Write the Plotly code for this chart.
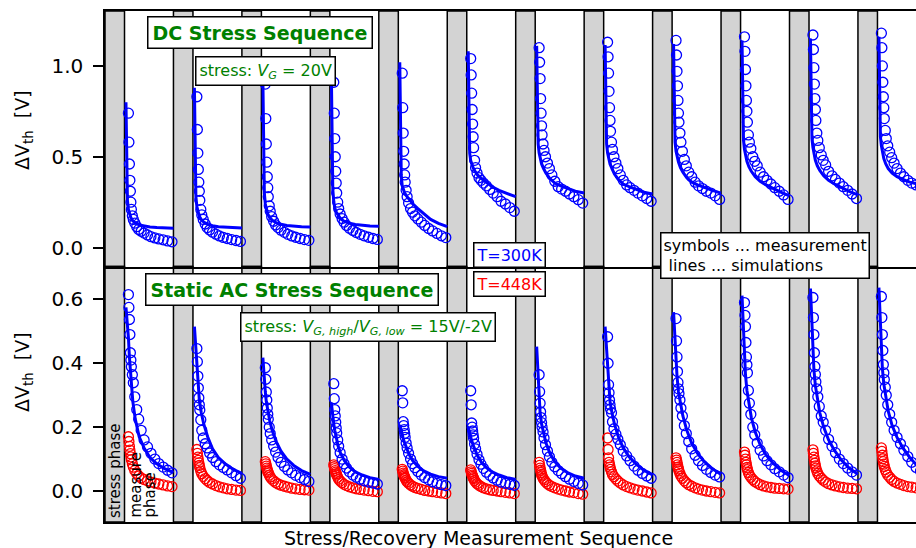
import plotly.graph_objects as go
from plotly.subplots import make_subplots

# ---------------------------------------------------------------- data
N_CYCLES = 12

# measurement instants inside each recovery window (fraction of the window)
t_meas = [0.08, 0.09, 0.10, 0.11, 0.12, 0.13, 0.14, 0.16, 0.18, 0.21, 0.25,
          0.29, 0.34, 0.40, 0.47, 0.54, 0.62, 0.70, 0.79, 0.88, 0.97]
# simulation output instants inside each recovery window
t_sim = [0.03, 0.04, 0.05, 0.06, 0.08, 0.10, 0.13, 0.17, 0.22, 0.30, 0.40,
         0.52, 0.66, 0.82, 1.0]

# DC stress (V_G = 20 V), T = 300 K -- measured dVth [V]
dc_meas_300K = [
    [0.74, 0.58, 0.46, 0.37, 0.31, 0.25, 0.21, 0.175, 0.155, 0.135, 0.115, 0.10, 0.09, 0.08, 0.07, 0.06, 0.053, 0.048, 0.043, 0.037, 0.032],
    [0.83, 0.65, 0.52, 0.43, 0.36, 0.31, 0.26, 0.21, 0.18, 0.155, 0.13, 0.11, 0.097, 0.085, 0.074, 0.064, 0.056, 0.05, 0.044, 0.039, 0.034],
    [0.90, 0.71, 0.57, 0.47, 0.39, 0.33, 0.28, 0.23, 0.20, 0.17, 0.145, 0.125, 0.11, 0.096, 0.084, 0.073, 0.064, 0.057, 0.05, 0.044, 0.04],
    [0.91, 0.74, 0.60, 0.50, 0.42, 0.355, 0.30, 0.25, 0.215, 0.185, 0.16, 0.14, 0.122, 0.107, 0.094, 0.083, 0.073, 0.065, 0.057, 0.05, 0.045],
    [0.96, 0.77, 0.63, 0.53, 0.46, 0.40, 0.36, 0.315, 0.28, 0.245, 0.215, 0.195, 0.175, 0.158, 0.14, 0.122, 0.105, 0.092, 0.078, 0.065, 0.055],
    [1.04, 0.95, 0.85, 0.76, 0.68, 0.61, 0.55, 0.48, 0.44, 0.41, 0.385, 0.37, 0.355, 0.34, 0.32, 0.30, 0.28, 0.255, 0.24, 0.22, 0.20],
    [1.10, 1.02, 0.93, 0.82, 0.74, 0.67, 0.62, 0.57, 0.535, 0.50, 0.465, 0.435, 0.40, 0.365, 0.335, 0.322, 0.31, 0.295, 0.28, 0.264, 0.245],
    [1.13, 1.05, 0.96, 0.86, 0.77, 0.70, 0.64, 0.58, 0.54, 0.50, 0.465, 0.435, 0.40, 0.37, 0.345, 0.33, 0.315, 0.30, 0.285, 0.27, 0.255],
    [1.14, 1.06, 0.97, 0.89, 0.81, 0.74, 0.69, 0.63, 0.58, 0.53, 0.485, 0.45, 0.415, 0.39, 0.36, 0.34, 0.325, 0.31, 0.30, 0.285, 0.265],
    [1.16, 1.08, 0.98, 0.89, 0.81, 0.75, 0.69, 0.62, 0.58, 0.545, 0.50, 0.475, 0.45, 0.415, 0.39, 0.37, 0.35, 0.33, 0.31, 0.29, 0.265],
    [1.17, 1.09, 0.99, 0.90, 0.82, 0.76, 0.70, 0.63, 0.59, 0.55, 0.51, 0.48, 0.455, 0.42, 0.395, 0.375, 0.355, 0.335, 0.315, 0.295, 0.27],
    [1.18, 1.10, 1.00, 0.91, 0.83, 0.77, 0.71, 0.645, 0.60, 0.56, 0.525, 0.495, 0.465, 0.435, 0.41, 0.39, 0.37, 0.355, 0.345, 0.335, 0.325],
]
# DC stress, T = 300 K -- simulated dVth [V]
dc_sim_300K = [
    [0.80, 0.55, 0.36, 0.26, 0.21, 0.185, 0.165, 0.148, 0.135, 0.125, 0.118, 0.113, 0.11, 0.108, 0.106],
    [0.88, 0.60, 0.39, 0.28, 0.225, 0.195, 0.172, 0.154, 0.14, 0.128, 0.12, 0.115, 0.112, 0.11, 0.108],
    [0.93, 0.64, 0.42, 0.30, 0.24, 0.21, 0.185, 0.165, 0.15, 0.137, 0.128, 0.122, 0.118, 0.115, 0.113],
    [0.97, 0.68, 0.45, 0.32, 0.255, 0.22, 0.195, 0.175, 0.158, 0.144, 0.134, 0.127, 0.122, 0.119, 0.117],
    [1.02, 0.85, 0.60, 0.40, 0.34, 0.32, 0.30, 0.283, 0.265, 0.24, 0.215, 0.185, 0.155, 0.133, 0.115],
    [1.08, 0.85, 0.62, 0.52, 0.48, 0.46, 0.44, 0.42, 0.40, 0.38, 0.36, 0.335, 0.315, 0.30, 0.28],
    [1.11, 0.85, 0.63, 0.57, 0.52, 0.49, 0.46, 0.435, 0.41, 0.38, 0.355, 0.34, 0.325, 0.31, 0.30],
    [1.115, 0.86, 0.64, 0.57, 0.52, 0.49, 0.46, 0.435, 0.405, 0.375, 0.35, 0.335, 0.32, 0.305, 0.295],
    [1.12, 0.87, 0.65, 0.58, 0.53, 0.50, 0.47, 0.44, 0.415, 0.385, 0.36, 0.345, 0.33, 0.315, 0.30],
    [1.14, 0.88, 0.66, 0.59, 0.54, 0.51, 0.475, 0.445, 0.42, 0.39, 0.365, 0.345, 0.325, 0.305, 0.285],
    [1.15, 0.89, 0.67, 0.60, 0.55, 0.515, 0.48, 0.45, 0.425, 0.395, 0.37, 0.35, 0.33, 0.31, 0.29],
    [1.16, 0.90, 0.68, 0.61, 0.56, 0.525, 0.49, 0.46, 0.435, 0.41, 0.39, 0.375, 0.36, 0.35, 0.34],
]

# static AC stress (15 V / -2 V), T = 300 K -- measured dVth [V]
ac_meas_300K = [
    [0.615, 0.575, 0.537, 0.49, 0.433, 0.41, 0.389, 0.364, 0.339, 0.295, 0.255, 0.225, 0.19, 0.16, 0.138, 0.118, 0.10, 0.086, 0.075, 0.065, 0.057],
    [0.446, 0.405, 0.36, 0.323, 0.292, 0.27, 0.254, 0.223, 0.19, 0.166, 0.148, 0.135, 0.119, 0.105, 0.092, 0.082, 0.074, 0.066, 0.057, 0.048, 0.04],
    [0.386, 0.35, 0.31, 0.285, 0.26, 0.24, 0.225, 0.20, 0.18, 0.16, 0.14, 0.122, 0.105, 0.09, 0.077, 0.066, 0.057, 0.049, 0.042, 0.036, 0.03],
    [0.336, 0.289, 0.255, 0.235, 0.215, 0.197, 0.182, 0.16, 0.14, 0.12, 0.10, 0.085, 0.072, 0.06, 0.05, 0.043, 0.037, 0.032, 0.028, 0.025, 0.022],
    [0.314, 0.276, 0.217, 0.205, 0.192, 0.18, 0.168, 0.15, 0.135, 0.118, 0.10, 0.086, 0.073, 0.061, 0.05, 0.042, 0.035, 0.029, 0.024, 0.02, 0.017],
    [0.314, 0.27, 0.213, 0.20, 0.188, 0.176, 0.165, 0.147, 0.132, 0.115, 0.098, 0.084, 0.071, 0.059, 0.049, 0.041, 0.034, 0.028, 0.024, 0.021, 0.018],
    [0.364, 0.311, 0.275, 0.248, 0.23, 0.214, 0.20, 0.185, 0.166, 0.145, 0.125, 0.107, 0.09, 0.076, 0.064, 0.054, 0.045, 0.037, 0.03, 0.024, 0.019],
    [0.483, 0.40, 0.333, 0.308, 0.285, 0.27, 0.257, 0.245, 0.217, 0.195, 0.178, 0.162, 0.145, 0.125, 0.11, 0.095, 0.078, 0.065, 0.055, 0.047, 0.04],
    [0.54, 0.47, 0.42, 0.374, 0.34, 0.32, 0.305, 0.285, 0.26, 0.235, 0.205, 0.18, 0.155, 0.132, 0.112, 0.095, 0.08, 0.068, 0.058, 0.05, 0.044],
    [0.59, 0.55, 0.515, 0.465, 0.42, 0.395, 0.37, 0.315, 0.275, 0.24, 0.20, 0.176, 0.15, 0.128, 0.11, 0.095, 0.082, 0.07, 0.06, 0.05, 0.042],
    [0.606, 0.543, 0.49, 0.433, 0.39, 0.365, 0.342, 0.32, 0.295, 0.265, 0.235, 0.215, 0.19, 0.162, 0.14, 0.12, 0.10, 0.086, 0.072, 0.06, 0.05],
    [0.609, 0.543, 0.49, 0.44, 0.396, 0.37, 0.349, 0.325, 0.30, 0.27, 0.24, 0.215, 0.19, 0.168, 0.148, 0.128, 0.108, 0.09, 0.074, 0.062, 0.052],
]
# static AC stress, T = 300 K -- simulated dVth [V]
ac_sim_300K = [
    [0.575, 0.56, 0.545, 0.53, 0.48, 0.42, 0.345, 0.28, 0.225, 0.17, 0.135, 0.105, 0.085, 0.07, 0.058],
    [0.515, 0.49, 0.46, 0.43, 0.38, 0.33, 0.285, 0.245, 0.21, 0.17, 0.132, 0.105, 0.085, 0.068, 0.055],
    [0.418, 0.39, 0.365, 0.345, 0.31, 0.28, 0.25, 0.22, 0.19, 0.155, 0.125, 0.10, 0.08, 0.064, 0.052],
    [0.277, 0.26, 0.245, 0.232, 0.21, 0.19, 0.165, 0.14, 0.118, 0.094, 0.075, 0.06, 0.05, 0.042, 0.036],
    [0.207, 0.20, 0.193, 0.186, 0.175, 0.165, 0.15, 0.133, 0.115, 0.094, 0.077, 0.063, 0.053, 0.045, 0.04],
    [0.20, 0.193, 0.186, 0.179, 0.168, 0.158, 0.144, 0.128, 0.11, 0.09, 0.073, 0.06, 0.05, 0.042, 0.036],
    [0.452, 0.42, 0.38, 0.34, 0.28, 0.245, 0.21, 0.18, 0.15, 0.118, 0.092, 0.072, 0.058, 0.047, 0.04],
    [0.515, 0.49, 0.46, 0.43, 0.37, 0.32, 0.28, 0.245, 0.21, 0.17, 0.135, 0.107, 0.085, 0.065, 0.05],
    [0.56, 0.53, 0.49, 0.45, 0.40, 0.36, 0.31, 0.27, 0.235, 0.19, 0.15, 0.118, 0.092, 0.07, 0.052],
    [0.612, 0.57, 0.52, 0.47, 0.41, 0.365, 0.315, 0.27, 0.23, 0.185, 0.145, 0.113, 0.088, 0.066, 0.048],
    [0.634, 0.59, 0.54, 0.49, 0.43, 0.38, 0.33, 0.285, 0.245, 0.20, 0.16, 0.127, 0.097, 0.072, 0.052],
    [0.637, 0.595, 0.545, 0.495, 0.435, 0.385, 0.335, 0.29, 0.25, 0.205, 0.168, 0.135, 0.105, 0.078, 0.057],
]
# static AC stress, T = 448 K -- measured dVth [V]
ac_meas_448K = [
    [0.17, 0.155, 0.14, 0.128, 0.117, 0.107, 0.098, 0.085, 0.075, 0.064, 0.055, 0.047, 0.041, 0.036, 0.032, 0.028, 0.025, 0.022, 0.019, 0.016, 0.014],
    [0.13, 0.118, 0.106, 0.096, 0.088, 0.08, 0.073, 0.062, 0.054, 0.046, 0.039, 0.033, 0.027, 0.022, 0.017, 0.013, 0.01, 0.007, 0.005, 0.003, 0.002],
    [0.092, 0.085, 0.078, 0.072, 0.066, 0.061, 0.057, 0.05, 0.044, 0.038, 0.032, 0.027, 0.022, 0.018, 0.015, 0.012, 0.009, 0.007, 0.005, 0.004, 0.003],
    [0.082, 0.076, 0.07, 0.064, 0.059, 0.054, 0.05, 0.043, 0.037, 0.031, 0.026, 0.021, 0.017, 0.013, 0.01, 0.007, 0.005, 0.003, 0.001, -0.001, -0.002],
    [0.068, 0.062, 0.056, 0.051, 0.047, 0.043, 0.04, 0.034, 0.029, 0.024, 0.019, 0.015, 0.011, 0.008, 0.005, 0.002, 0.0, -0.002, -0.004, -0.006, -0.008],
    [0.066, 0.06, 0.055, 0.05, 0.046, 0.042, 0.039, 0.033, 0.028, 0.023, 0.018, 0.014, 0.01, 0.007, 0.004, 0.002, 0.0, -0.002, -0.004, -0.006, -0.008],
    [0.09, 0.08, 0.072, 0.065, 0.058, 0.052, 0.047, 0.04, 0.035, 0.029, 0.023, 0.018, 0.014, 0.01, 0.006, 0.003, 0.0, -0.003, -0.005, -0.008, -0.01],
    [0.166, 0.13, 0.104, 0.09, 0.082, 0.075, 0.068, 0.06, 0.052, 0.045, 0.038, 0.031, 0.025, 0.019, 0.014, 0.01, 0.006, 0.003, 0.0, -0.003, -0.006],
    [0.104, 0.097, 0.09, 0.082, 0.075, 0.069, 0.063, 0.055, 0.047, 0.04, 0.032, 0.026, 0.02, 0.015, 0.01, 0.006, 0.003, 0.0, -0.002, -0.004, -0.006],
    [0.122, 0.112, 0.10, 0.09, 0.082, 0.074, 0.067, 0.058, 0.05, 0.043, 0.036, 0.03, 0.025, 0.02, 0.016, 0.013, 0.011, 0.009, 0.008, 0.007, 0.006],
    [0.129, 0.118, 0.106, 0.096, 0.087, 0.079, 0.072, 0.063, 0.055, 0.047, 0.04, 0.034, 0.028, 0.023, 0.019, 0.016, 0.013, 0.011, 0.009, 0.008, 0.007],
    [0.135, 0.124, 0.112, 0.101, 0.092, 0.084, 0.077, 0.067, 0.059, 0.05, 0.043, 0.036, 0.03, 0.025, 0.021, 0.017, 0.014, 0.012, 0.01, 0.009, 0.008],
]

top_ticks = [0.0, 0.5, 1.0]
bottom_ticks = [0.0, 0.2, 0.4, 0.6]

# ---------------------------------------------------------------- layout constants
STRESS_FRAC = 0.285          # share of one stress/recovery cycle taken by the stress phase
X_MAX = 11.848               # visible part of the sequence axis (in cycles)
W, H = 916, 548
ML, MR, MT, MB = 105, 0, 11, 26
PW, PH = W - ML - MR, H - MT - MB
FONT = "DejaVu Sans"
GREEN = "#008000"
BLUE = "#0000ff"
RED = "#ff0000"


def recovery_x(k, frac):
    return k + STRESS_FRAC + frac * (1.0 - STRESS_FRAC)


def series(cycles, times):
    xs, ys = [], []
    for k, vals in enumerate(cycles):
        xs += [recovery_x(k, t) for t in times] + [None]
        ys += list(vals) + [None]
    return xs, ys


def px(x):
    return (x - ML) / PW


def py(y):
    return (H - MB - y) / PH


fig = make_subplots(rows=2, cols=1, shared_xaxes=True, vertical_spacing=0)


def add_meas(cycles, color, row):
    xs, ys = series(cycles, t_meas)
    fig.add_trace(go.Scatter(
        x=xs, y=ys, mode="markers", showlegend=False,
        marker=dict(symbol="circle-open", size=10, color=color,
                    line=dict(width=1.3, color=color))), row=row, col=1)


def add_sim(cycles, color, row):
    xs, ys = series(cycles, t_sim)
    fig.add_trace(go.Scatter(
        x=xs, y=ys, mode="lines", showlegend=False,
        line=dict(color=color, width=3)), row=row, col=1)


add_meas(dc_meas_300K, BLUE, 1)
add_sim(dc_sim_300K, BLUE, 1)
add_meas(ac_meas_448K, RED, 2)
add_meas(ac_meas_300K, BLUE, 2)
add_sim(ac_sim_300K, BLUE, 2)

# stress phases
for yref in ("y domain", "y2 domain"):
    for k in range(N_CYCLES):
        fig.add_shape(type="rect", xref="x", yref=yref,
                      x0=k, x1=k + STRESS_FRAC, y0=0, y1=1,
                      fillcolor="#d3d3d3", line=dict(color="black", width=1.5),
                      layer="below")

axis_common = dict(showline=True, linecolor="black", linewidth=1.5,
                   showgrid=False, zeroline=False)
split = 255.5 / PH
fig.update_xaxes(range=[0, X_MAX], showticklabels=False, ticks="", **axis_common)
fig.update_xaxes(mirror=True, row=1, col=1)
fig.update_xaxes(mirror=False, row=2, col=1)
fig.update_yaxes(ticks="outside", ticklen=10, tickwidth=1.5, tickcolor="black",
                 tickfont=dict(family=FONT, size=20, color="black"),
                 ticklabelstandoff=6, **axis_common)
fig.update_layout(
    yaxis=dict(range=[-0.104, 1.302], domain=[split, 1], tickvals=top_ticks,
               ticktext=[f"{v:.1f}" for v in top_ticks]),
    yaxis2=dict(range=[-0.097, 0.703], domain=[0, split], tickvals=bottom_ticks,
                ticktext=[f"{v:.1f}" for v in bottom_ticks]),
)

anns = []


def note(text, x, y, size, color, bold=False, box=True, **kw):
    if bold:
        text = f"<b>{text}</b>"
    d = dict(text=text, xref="paper", yref="paper", x=px(x), y=py(y),
             xanchor="center", yanchor="middle",
             showarrow=False, font=dict(family=FONT, size=size, color=color))
    if box:
        d.update(bgcolor="white", bordercolor="black", borderwidth=1.5, borderpad=4)
    d.update(kw)
    anns.append(d)


note("DC Stress Sequence", 260, 32, 19, GREEN, bold=True)
note("stress: <i>V</i><sub><i>G</i></sub> = 20V", 265, 71, 16, GREEN, borderpad=3)
note("Static AC Stress Sequence", 292, 289, 19, GREEN, bold=True)
note("stress: <i>V</i><sub><i>G, high</i></sub>/<i>V</i><sub><i>G, low</i></sub> = 15V/-2V",
     368, 327, 16, GREEN, borderpad=3)
note("T=300K", 509, 255, 16, BLUE, borderpad=2)
note("T=448K", 509, 284, 16, RED, borderpad=2)
note("symbols ... measurement<br> lines ... simulations", 765, 255, 16, "black",
     align="left", borderpad=2)

# phase labels inside the first cycle
note("stress phase", 115, 520, 15, "black", box=False, textangle=-90, yanchor="bottom")
note("measure", 135, 520, 15, "black", box=False, textangle=-90, yanchor="bottom")
note("phase", 149, 520, 15, "black", box=False, textangle=-90, yanchor="bottom")

# axis titles
note("ΔV<sub>th</sub>  [V]", 23, 130, 19, "black", box=False, textangle=-90)
note("ΔV<sub>th</sub>  [V]", 23, 372, 19, "black", box=False, textangle=-90)
note("Stress/Recovery Measurement Sequence", 478, 538, 19, "black", box=False)

fig.update_layout(
    width=W, height=H,
    margin=dict(l=ML, r=MR, t=MT, b=MB, pad=0),
    paper_bgcolor="white", plot_bgcolor="white",
    font=dict(family=FONT, color="black"),
    annotations=anns,
    showlegend=False,
)

fig.write_html("out.html")
